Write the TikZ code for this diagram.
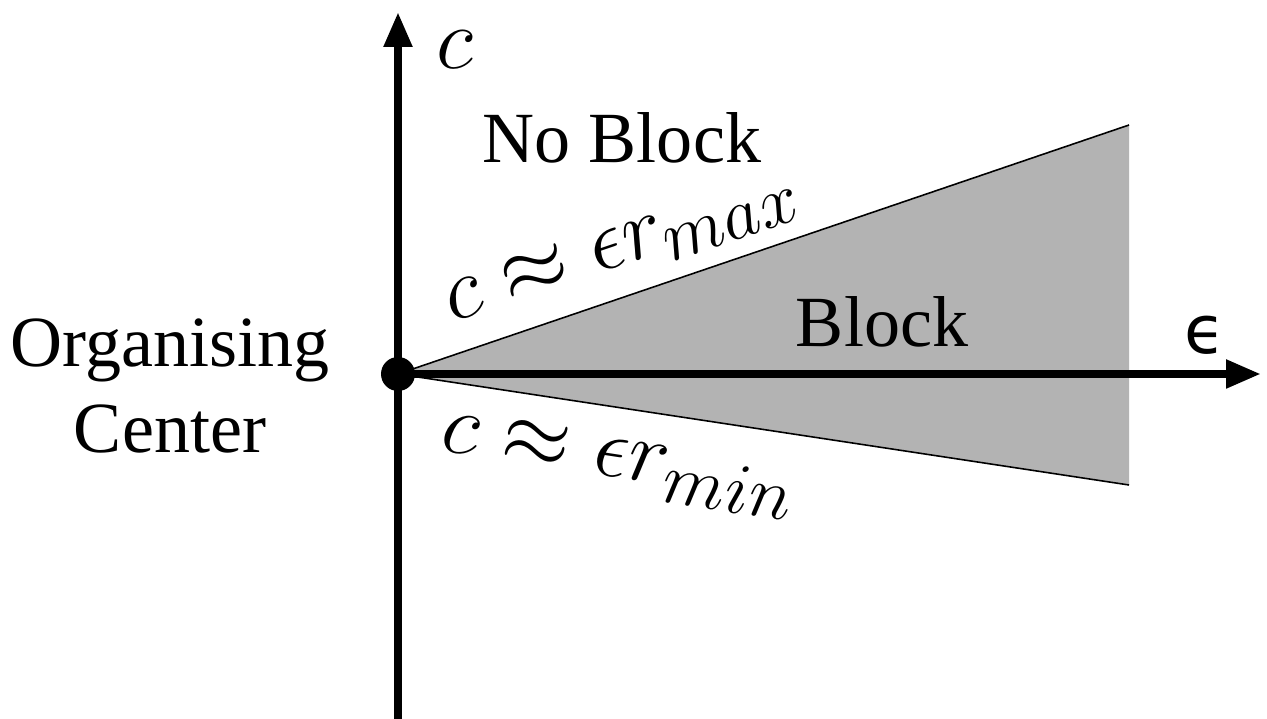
\documentclass[tikz,border=0pt]{standalone}
\usepackage{fontspec}
\setmainfont{Liberation Serif}
\newfontfamily\epsfont{DejaVu Sans}
\usetikzlibrary{arrows.meta,calc}
\DeclareMathSizes{23.5}{23.5}{20}{14}
\definecolor{wedge}{RGB}{179,179,179}
\tikzset{
  axis/.style={line width=2.3pt, -{Triangle[length=3.5mm, width=2.7mm]}},
  edge/.style={line width=0.45pt},
  region/.style={font=\fontsize{20.5}{24.6}\selectfont},
  bound/.style={font=\fontsize{23.5}{28}\selectfont, inner sep=0pt},
}

\begin{document}
\begin{tikzpicture}
  \useasboundingbox (-3.98,-3.45) rectangle (8.69,3.74);
  % wedge between the two bounds
  \coordinate (o) at (0,0);
  \coordinate (hi) at (7.31,2.49);
  \coordinate (lo) at (7.31,-1.11);
  \fill[wedge] (o) -- (hi) -- (lo) -- cycle;
  \draw[edge] (o) -- (hi);
  \draw[edge] (o) -- (lo);
  % axes
  \coordinate (cbot) at (0,-3.45);
  \coordinate (ctop) at (0,3.62);
  \coordinate (eend) at (8.63,0);
  \draw[axis] (cbot) -- (ctop);
  \draw[axis] (o) -- (eend);
  \node[circle, fill=black, inner sep=0pt, minimum size=3.4mm] (org) at (o) {};
  \node[bound] (clab) at (0.57,3.24) {$c$};
  \node[font=\fontsize{19}{22}\epsfont] (elab) at (8.07,0.39) {ϵ};
  \node[region] (noblock) at (2.24,2.36) {No Block};
  \node[region] (block) at (4.84,0.52) {Block};
  \node[region, align=center] (center) at (-2.28,-0.12) {Organising\\Center};
  \node[bound, rotate=18.7] (max) at (2.24,1.24) {$c \approx \epsilon r_{max}$};
  \node[bound, rotate=-8.7] (min) at (2.20,-0.91) {$c \approx \epsilon r_{min}$};
\end{tikzpicture}
\end{document}
